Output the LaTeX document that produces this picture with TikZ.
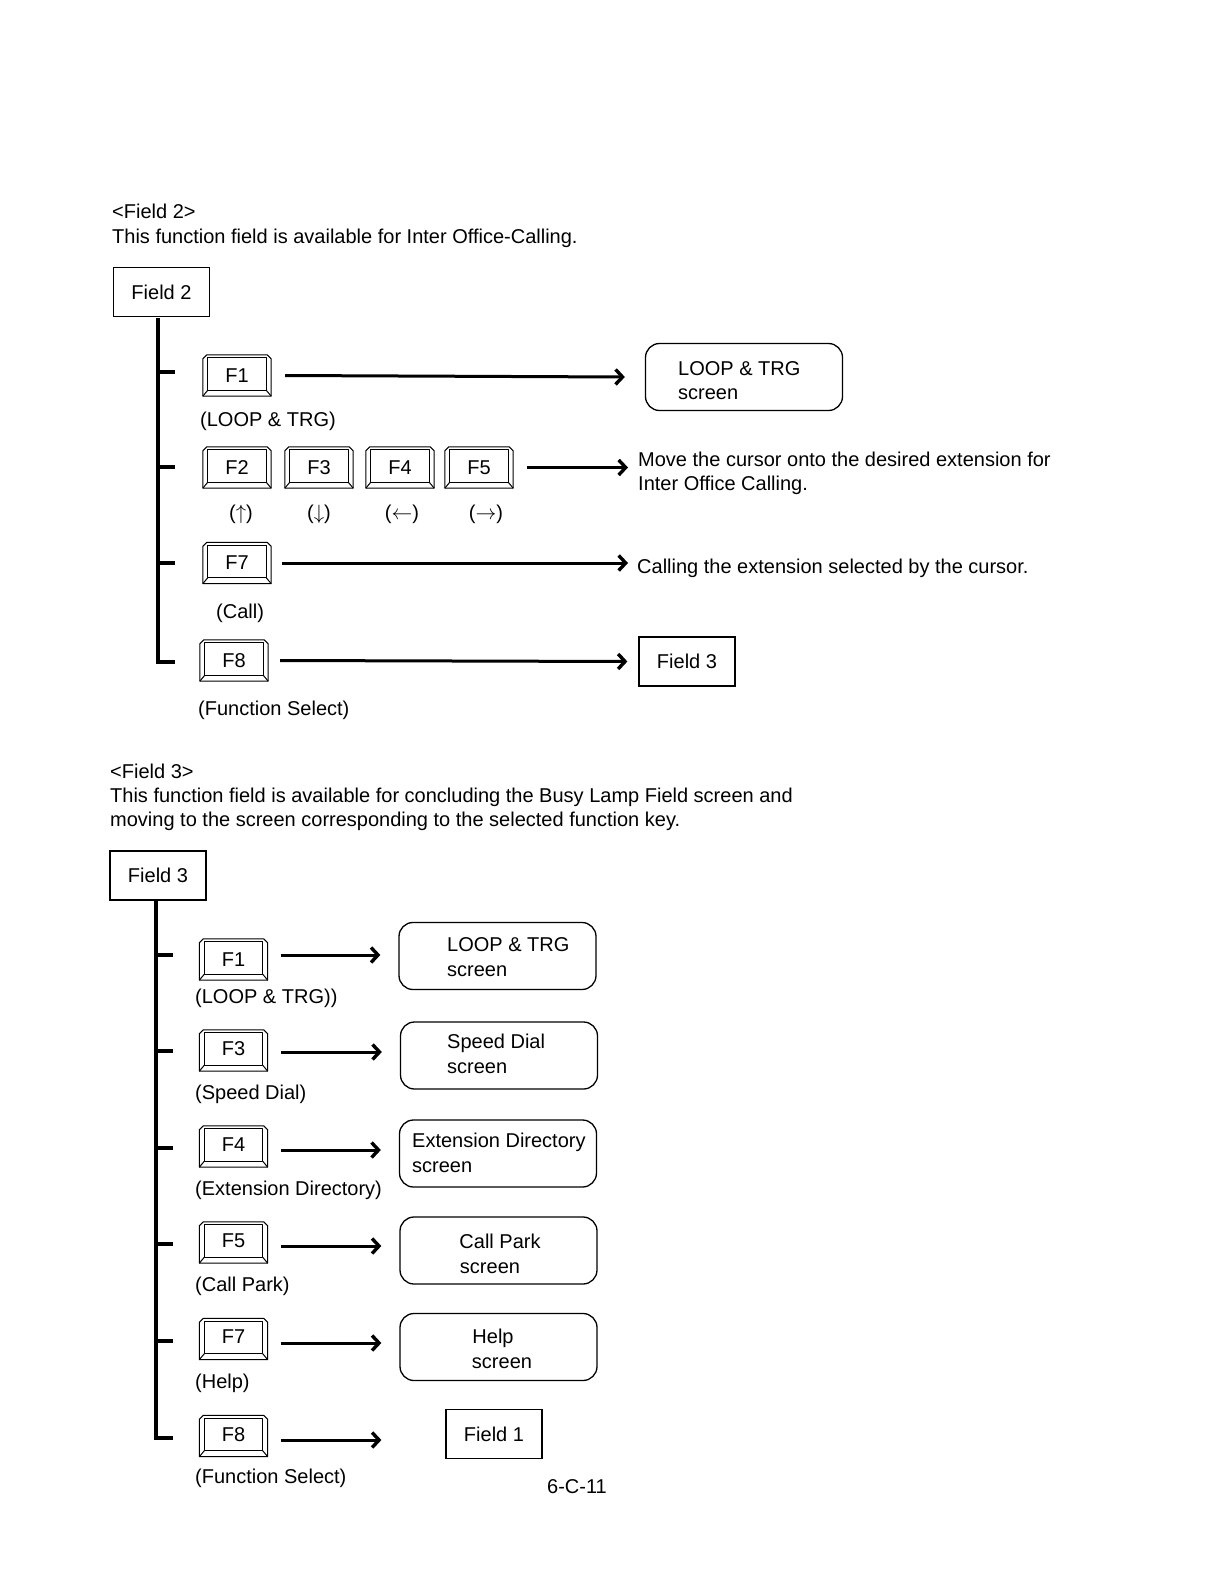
\documentclass[tikz,border=0pt]{standalone}
\usepackage{fontspec}
\setmainfont{Liberation Sans}
\usetikzlibrary{arrows.meta}
\tikzset{
  txt/.style={anchor=base west, inner sep=0pt, font=\fontsize{20}{22}\selectfont},
  ctxt/.style={anchor=base, inner sep=0pt, font=\fontsize{20}{22}\selectfont},
  keynode/.style={draw=none, minimum width=68pt, minimum height=41pt, inner sep=0pt, font=\fontsize{20}{22}\selectfont},
  keyline/.style={line width=1pt, line join=round},
  fieldbox/.style={draw, line width=1.2pt, minimum width=96pt, minimum height=49pt, inner sep=0pt, font=\fontsize{20}{22}\selectfont},
  screenbox/.style={draw, line width=1.3pt, rounded corners=14pt, minimum width=197pt, minimum height=67pt, inner sep=0pt},
  trunk/.style={line width=3.5pt},
  tick/.style={line width=3.5pt},
  conn/.style={line width=3pt, -{Straight Barb[length=7pt,width=15pt,line width=3.4pt]}},
}
\newcommand\keycap[4]{%
  \node[keynode] (#1) at (#2,#3) {#4};
  \draw[keyline] (#1.south west) -- ([yshift=-4pt]#1.north west) -- ([xshift=4pt]#1.north west)
     -- ([xshift=-4pt]#1.north east) -- ([yshift=-4pt]#1.north east) -- (#1.south east) -- cycle;
  \draw[keyline] ([shift={(5pt,-3pt)}]#1.north west) rectangle ([shift={(-5pt,6pt)}]#1.south east);
  \draw[keyline] (#1.south west) -- ([shift={(5pt,6pt)}]#1.south west);
  \draw[keyline] (#1.south east) -- ([shift={(-5pt,6pt)}]#1.south east);
}
\begin{document}
\begin{tikzpicture}[x=1pt,y=-1pt]
\useasboundingbox (0,0) rectangle (1222,1586);

% ---------------- Field 2 ----------------
\node[txt] (h2) at (112,219) {<Field 2>};
\node[txt] (d2) at (112,244) {This function field is available for Inter Office-Calling.};
\node[fieldbox] (f2) at (161.5,292) {Field 2};
\draw[trunk] (158,318) -- (158,662) -- (175,662);
\draw[tick] (158,372) -- (175,372);
\draw[tick] (158,467) -- (175,467);
\draw[tick] (158,563) -- (175,563);

\keycap{a1}{237}{375.5}{F1}
\node[txt] (a1l) at (200,426) {(LOOP \& TRG)};
\node[screenbox] (s21) at (744,377) {};
\node[txt] at (678,375) {LOOP \& TRG};
\node[txt] at (678,399) {screen};
\draw[conn] ([xshift=14pt]a1.east) -- ([xshift=-20pt]s21.west);

\keycap{a2}{237}{467.5}{F2}
\keycap{a3}{319}{467.5}{F3}
\keycap{a4}{400}{467.5}{\raisebox{-2pt}{F4}}
\keycap{a5}{479}{467.5}{F5}
\node[ctxt] at (241,519) {($\uparrow$)};
\node[ctxt] at (319,519) {($\downarrow$)};
\node[ctxt] at (402,519) {($\leftarrow$)};
\node[ctxt] at (486,519) {($\rightarrow$)};
\node[txt] (m1) at (638,466) {Move the cursor onto the desired extension for};
\node[txt] (m2) at (638,490) {Inter Office Calling.};
\draw[conn] ([xshift=14pt]a5.east) -- ([xshift=-10pt]m1.west |- a5.east);

\keycap{a7}{237}{563}{F7}
\node[txt] (a7l) at (216,618) {(Call)};
\node[txt] (c1) at (637,573) {Calling the extension selected by the cursor.};
\draw[conn] ([xshift=11pt]a7.east) -- ([xshift=-9pt]c1.west |- a7.east);

\keycap{a8}{234}{660.5}{F8}
\node[txt] (a8l) at (198,715) {(Function Select)};
\node[fieldbox] (f3a) at (687,661.5) {Field 3};
\draw[conn] ([xshift=12pt]a8.east) -- ([xshift=-11pt]f3a.west);

% ---------------- Field 3 ----------------
\node[txt] (h3) at (110,778) {<Field 3>};
\node[txt] (d3a) at (110,802) {This function field is available for concluding the Busy Lamp Field screen and};
\node[txt] (d3b) at (110,826) {moving to the screen corresponding to the selected function key.};
\node[fieldbox] (f3) at (158,875.5) {Field 3};
\draw[trunk] (156,900) -- (156,1438) -- (173,1438);
\foreach \yy in {955,1051,1148,1244,1341}{\draw[tick] (156,\yy) -- (173,\yy);}

\keycap{b1}{233.5}{959.5}{F1}
\node[txt] at (195,1003) {(LOOP \& TRG))};
\node[screenbox] (r1) at (497.5,956) {};
\node[txt] at (447,951) {LOOP \& TRG};
\node[txt] at (447,976) {screen};
\draw[conn] ([xshift=13pt]b1.east |- 0,955) -- ([xshift=-18pt]r1.west |- 0,955);

\keycap{b3}{233.5}{1050.5}{\raisebox{4pt}{F3}}
\node[txt] at (195,1099) {(Speed Dial)};
\node[screenbox] (r3) at (499,1055.5) {};
\node[txt] at (447,1048) {Speed Dial};
\node[txt] at (447,1073) {screen};
\draw[conn] ([xshift=13pt]b3.east |- 0,1052) -- ([xshift=-18pt]r3.west |- 0,1052);

\keycap{b4}{233.5}{1146.5}{\raisebox{4pt}{F4}}
\node[txt] at (195,1195) {(Extension Directory)};
\node[screenbox] (r4) at (498,1153.5) {};
\node[txt] at (412,1147) {Extension Directory};
\node[txt] at (412,1172) {screen};
\draw[conn] ([xshift=13pt]b4.east |- 0,1150) -- ([xshift=-18pt]r4.west |- 0,1150);

\keycap{b5}{233.5}{1242.5}{\raisebox{4pt}{F5}}
\node[txt] at (195,1291) {(Call Park)};
\node[screenbox] (r5) at (498.5,1250.5) {};
\node[ctxt] at (500,1248) {Call Park};
\node[ctxt] at (490,1273) {screen};
\draw[conn] ([xshift=13pt]b5.east |- 0,1246) -- ([xshift=-18pt]r5.west |- 0,1246);

\keycap{b7}{233.5}{1339}{\raisebox{4pt}{F7}}
\node[txt] at (195,1388) {(Help)};
\node[screenbox] (r7) at (498.5,1347) {};
\node[ctxt] at (493,1343) {Help};
\node[ctxt] at (502,1368) {screen};
\draw[conn] ([xshift=13pt]b7.east |- 0,1343) -- ([xshift=-18pt]r7.west |- 0,1343);

\keycap{b8}{233.5}{1436}{\raisebox{4pt}{F8}}
\node[txt] at (195,1483) {(Function Select)};
\node[fieldbox] (f1) at (494,1434) {Field 1};
\draw[conn] ([xshift=13pt]b8.east |- 0,1440) -- ([xshift=-64pt]f1.west |- 0,1440);

\node[txt] (pg) at (547,1493) {6-C-11};
\end{tikzpicture}
\end{document}
